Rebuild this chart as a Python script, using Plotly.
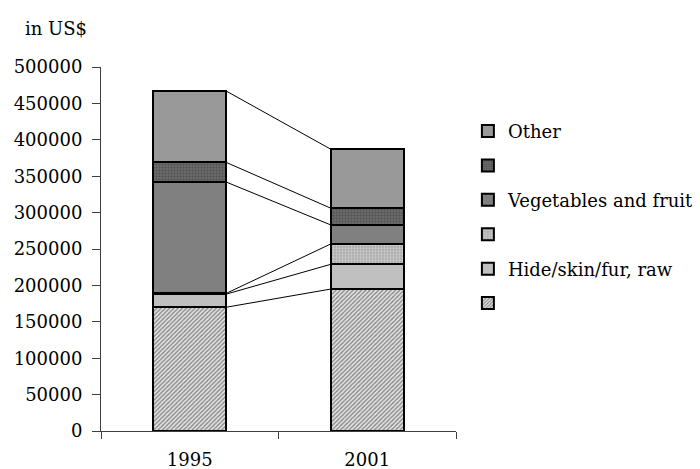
import plotly.graph_objects as go

years = ["1995", "2001"]
series_names = [" ", "Hide/skin/fur, raw", "  ", "Vegetables and fruit", "   ", "Other"]
bottom_hatched = [170000, 195000]
hide_skin = [18000, 34000]
dotted = [1000, 28000]
veg_fruit = [153000, 26000]
dark = [27000, 23000]
other = [98000, 81000]
y_ticks = [0, 50000, 100000, 150000, 200000, 250000, 300000, 350000, 400000, 450000, 500000]

values = [bottom_hatched, hide_skin, dotted, veg_fruit, dark, other]
styles = [
    dict(color="white", pattern=dict(shape="/", fgcolor="#262626", bgcolor="#e6e6e6", size=3, solidity=0.45)),
    dict(color="#C0C0C0"),
    dict(color="#C8C8C8", pattern=dict(shape=".", fgcolor="#f4f4f4", bgcolor="#a8a8a8", size=3, solidity=0.45)),
    dict(color="#808080"),
    dict(color="#555555", pattern=dict(shape=".", fgcolor="#3a3a3a", bgcolor="#707070", size=3, solidity=0.5)),
    dict(color="#999999"),
]

xpos = [0, 1]
bar_width = 0.41
fig = go.Figure()
for i, (name, vals, st) in enumerate(zip(series_names, values, styles)):
    marker = dict(line=dict(color="black", width=2))
    marker.update(st)
    fig.add_trace(go.Bar(x=xpos, y=vals, name=name, width=bar_width, marker=marker,
                         legendgroup=f"g{i}", legendrank=100 - i))

# series lines
cum = [0, 0]
for vals in values:
    cum = [cum[0] + vals[0], cum[1] + vals[1]]
    fig.add_trace(go.Scatter(x=[xpos[0] + bar_width / 2, xpos[1] - bar_width / 2], y=cum,
                             mode="lines", line=dict(color="black", width=1), showlegend=False,
                             hoverinfo="skip"))

fam = "DejaVu Serif, serif"
font = dict(family=fam, size=18, color="black")
axcol = "#404040"
fig.update_layout(
    barmode="stack",
    width=720, height=469,
    margin=dict(l=93, r=272, t=59, b=46),
    plot_bgcolor="white", paper_bgcolor="white",
    font=font,
    showlegend=True,
    legend=dict(x=1.0335, y=0.874, xanchor="left", yanchor="top", traceorder="grouped",
                tracegroupgap=8, font=font, bgcolor="rgba(0,0,0,0)"),
    xaxis=dict(range=[-0.5, 1.5], tickvals=xpos, ticktext=years, ticks="", showline=True,
               linecolor=axcol, linewidth=1, showgrid=False, zeroline=False, tickfont=font,
               ticklabelstandoff=12, automargin=False,
               minor=dict(tickvals=[-0.5, 0.5, 1.5], ticks="outside", ticklen=7, tickcolor=axcol)),
    yaxis=dict(range=[0, 500000], tickvals=y_ticks, ticks="outside", ticklen=8, tickcolor=axcol,
               showline=True, linecolor=axcol, linewidth=1, showgrid=False, zeroline=False,
               tickformat="d", tickfont=font, ticklabelstandoff=6, automargin=False),
    annotations=[dict(text="in US$", xref="paper", yref="paper", x=-0.22, y=1.107,
                      xanchor="left", yanchor="middle", showarrow=False, font=font)],
)
fig.write_html("out.html")
